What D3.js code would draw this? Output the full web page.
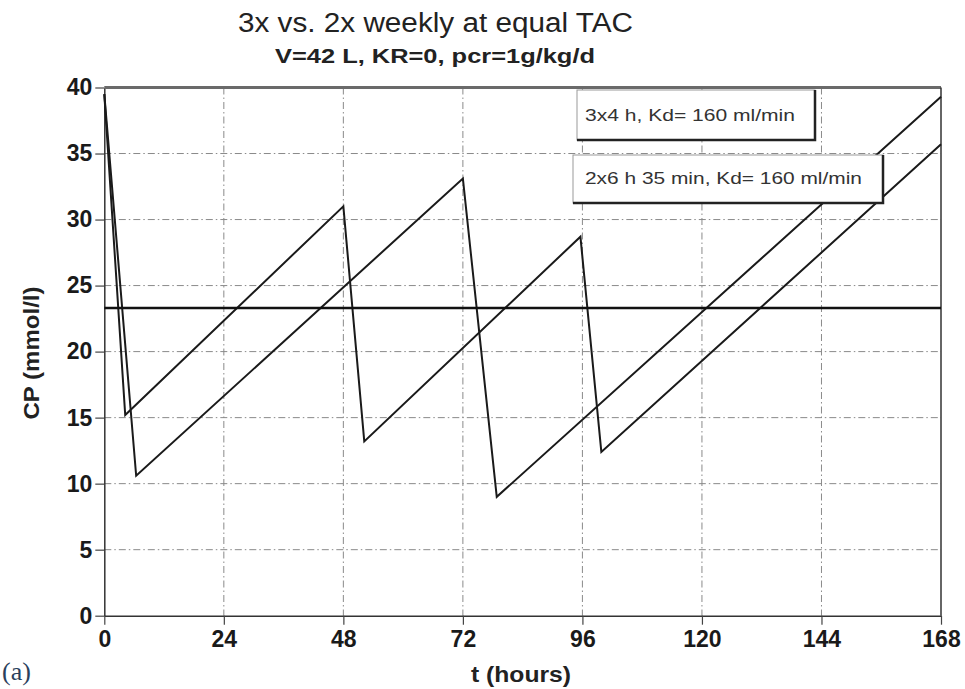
<!DOCTYPE html>
<html>
<head>
<meta charset="utf-8">
<script src="https://cdn.jsdelivr.net/npm/d3@7"></script>
<style>
  html, body { margin: 0; padding: 0; background: #fff; }
  svg { display: block; }
</style>
</head>
<body>
<svg id="chart" width="965" height="689"></svg>
<script>
// ---- data ----
const title = "3x vs. 2x weekly at equal TAC";
const subtitle = "V=42 L, KR=0, pcr=1g/kg/d";
const xTicks = [0, 24, 48, 72, 96, 120, 144, 168];
const yTicks = [0, 5, 10, 15, 20, 25, 30, 35, 40];
const seriesNames = ["3x4 h, Kd= 160 ml/min", "2x6 h 35 min, Kd= 160 ml/min"];
// 3x weekly, 4 h sessions
const tA = [0, 4.2, 48, 52.2, 95.6, 99.8, 168];
const cA = [39.5, 15.2, 31.0, 13.2, 28.7, 12.4, 35.7];
// 2x weekly, 6 h 35 min sessions
const tB = [0, 6.4, 72, 78.8, 168];
const cB = [39.5, 10.6, 33.1, 9.0, 39.3];
// time-averaged concentration
const tac = 23.3;

// ---- layout ----
const svg = d3.select("#chart");
const x = d3.scaleLinear().domain([0, 168]).range([104.3, 941]);
const y = d3.scaleLinear().domain([0, 40]).range([615.7, 87.5]);
const font = "'Liberation Sans', Arial, Helvetica, sans-serif";

// grid
const grid = svg.append("g");
grid.selectAll("line.h").data(yTicks.filter(d => d > 0 && d < 40)).join("line")
  .attr("x1", x(0)).attr("x2", x(168))
  .attr("y1", d => y(d)).attr("y2", d => y(d))
  .attr("stroke", "#8a8a8a").attr("stroke-width", 1)
  .attr("stroke-dasharray", "7,3,1.5,3");
grid.selectAll("line.v").data(xTicks.filter(d => d > 0 && d < 168)).join("line")
  .attr("x1", d => x(d)).attr("x2", d => x(d))
  .attr("y1", y(40)).attr("y2", y(0))
  .attr("stroke", "#8a8a8a").attr("stroke-width", 1)
  .attr("stroke-dasharray", "7,3,1.5,3");

// axes
const xAxis = d3.axisBottom(x).tickValues(xTicks).tickSize(9).tickSizeOuter(0).tickPadding(6);
const gx = svg.append("g").attr("transform", `translate(0,${y(0)})`).call(xAxis);
gx.select(".domain").attr("stroke", "#333").attr("stroke-width", 1.5);
gx.selectAll(".tick line").attr("stroke", "#444").attr("stroke-width", 1.2);
gx.selectAll(".tick text").attr("font-family", font).attr("font-weight", "bold")
  .attr("font-size", 23).attr("fill", "#1a1a1a").attr("dy", "0.71em");

const yAxis = d3.axisLeft(y).tickValues(yTicks).tickSize(9).tickSizeOuter(0).tickPadding(3);
const gy = svg.append("g").attr("transform", `translate(${x(0)},0)`).call(yAxis);
gy.select(".domain").attr("stroke", "#333").attr("stroke-width", 1.5);
gy.selectAll(".tick line").attr("stroke", "#444").attr("stroke-width", 1.2);
gy.selectAll(".tick text").attr("font-family", font).attr("font-weight", "bold")
  .attr("font-size", 23).attr("fill", "#1a1a1a");

// frame top/right
svg.append("line").attr("x1", x(0)).attr("x2", x(168)).attr("y1", y(40)).attr("y2", y(40))
  .attr("stroke", "#6a6a6a").attr("stroke-width", 3);
svg.append("line").attr("x1", x(168)).attr("x2", x(168)).attr("y1", y(40)).attr("y2", y(0))
  .attr("stroke", "#333").attr("stroke-width", 1.5);

// series lines
const line = d3.line().x(d => x(d[0])).y(d => y(d[1]));
const dataA = tA.map((t, i) => [t, cA[i]]);
const dataB = tB.map((t, i) => [t, cB[i]]);
svg.append("path").datum(dataA).attr("d", line)
  .attr("fill", "none").attr("stroke", "#1a1a1a").attr("stroke-width", 2);
svg.append("path").datum(dataB).attr("d", line)
  .attr("fill", "none").attr("stroke", "#1a1a1a").attr("stroke-width", 2);
svg.append("path").datum([[0, tac], [168, tac]]).attr("d", line)
  .attr("fill", "none").attr("stroke", "#111").attr("stroke-width", 2.4);

// legend boxes
const boxes = [
  { x0: 577, x1: 815, y0: 90, y1: 140, tx: 585, ty: 121, tw: 210, name: seriesNames[0] },
  { x0: 573, x1: 883, y0: 155, y1: 203, tx: 585, ty: 184, tw: 277, name: seriesNames[1] }
];
boxes.forEach(b => {
  svg.append("rect").attr("x", b.x0).attr("y", b.y0).attr("width", b.x1 - b.x0).attr("height", b.y1 - b.y0)
    .attr("fill", "#fff").attr("stroke", "#999").attr("stroke-width", 1);
  svg.append("polyline")
    .attr("points", `${b.x1},${b.y0} ${b.x1},${b.y1} ${b.x0},${b.y1}`)
    .attr("fill", "none").attr("stroke", "#222").attr("stroke-width", 2.5);
  svg.append("text").attr("x", b.tx).attr("y", b.ty).text(b.name)
    .attr("font-family", "'Liberation Sans Narrow', 'Arial Narrow', " + font)
    .attr("font-size", 17).attr("fill", "#333")
    .attr("textLength", b.tw).attr("lengthAdjust", "spacingAndGlyphs");
});

// titles
svg.append("text").attr("x", 435.5).attr("y", 32).attr("text-anchor", "middle").text(title)
  .attr("font-family", font).attr("font-size", 27).attr("fill", "#222")
  .attr("textLength", 395).attr("lengthAdjust", "spacingAndGlyphs");
svg.append("text").attr("x", 435).attr("y", 63).attr("text-anchor", "middle").text(subtitle)
  .attr("font-family", font).attr("font-weight", "bold").attr("font-size", 20).attr("fill", "#222")
  .attr("textLength", 320).attr("lengthAdjust", "spacingAndGlyphs");

// axis titles
svg.append("text").attr("transform", "translate(39,353) rotate(-90)").attr("text-anchor", "middle")
  .text("CP (mmol/l)").attr("font-family", font).attr("font-weight", "bold")
  .attr("font-size", 22).attr("fill", "#222")
  .attr("textLength", 133).attr("lengthAdjust", "spacingAndGlyphs");
svg.append("text").attr("x", 521).attr("y", 682).attr("text-anchor", "middle")
  .text("t (hours)").attr("font-family", font).attr("font-weight", "bold")
  .attr("font-size", 22).attr("fill", "#222")
  .attr("textLength", 100).attr("lengthAdjust", "spacingAndGlyphs");
svg.append("text").attr("x", 2).attr("y", 680).text("(a)")
  .attr("font-family", "'Liberation Serif', 'Times New Roman', serif")
  .attr("font-size", 26).attr("fill", "#2b3f5c");
</script>
</body>
</html>
